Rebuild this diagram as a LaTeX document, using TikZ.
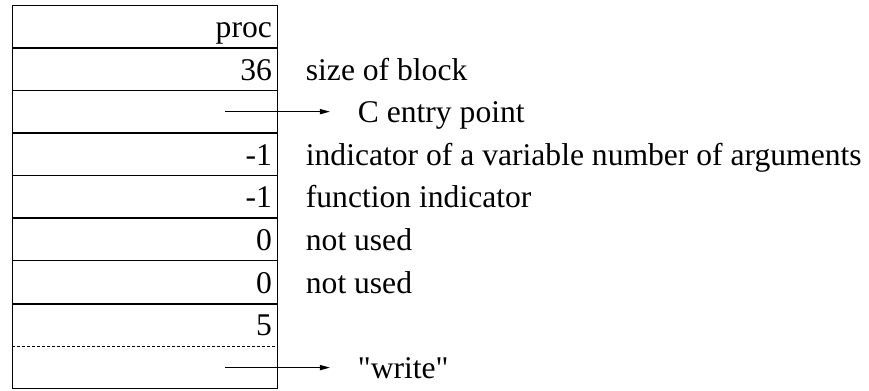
\documentclass[tikz,border=0pt]{standalone}
\usepackage{fontspec}
\setmainfont{Liberation Serif}[Ligatures=TeXOff]
\usepackage{tikz}
\usetikzlibrary{arrows.meta, positioning}
\tikzset{
  cell/.style={rectangle,text width=126.8pt,align=right,inner xsep=3pt,inner ysep=0pt,text height=16.17pt,text depth=5.16pt,outer sep=0pt,font=\fontsize{15.8pt}{18pt}\selectfont},
  lbl/.style={inner sep=0pt,outer sep=0pt,text height=16.17pt,text depth=5.16pt,font=\fontsize{15.8pt}{18pt}\selectfont},
  arr/.style={-{Triangle[length=5pt,width=2.6pt]},line width=0.5pt},
  sep/.style={line width=0.5pt},
  wsep/.style={line width=1.1pt}
}
\begin{document}
\begin{tikzpicture}[node distance=0pt]
  % the block, one cell per word
  \node[cell] (c1) at (0,0) {proc};
  \node[cell, below=of c1] (c2) {36};
  \node[cell, below=of c2] (c3) {};
  \node[cell, below=of c3] (c4) {-1};
  \node[cell, below=of c4] (c5) {-1};
  \node[cell, below=of c5] (c6) {0};
  \node[cell, below=of c6] (c7) {0};
  \node[cell, below=of c7] (c8) {5};
  \node[cell, below=of c8] (c9) {};

  \useasboundingbox ([shift={(-6.15pt,2.5pt)}]c1.north west) rectangle ++(434.5pt,-195.5pt);

  \draw[sep] (c1.north west) rectangle (c9.south east);
  \foreach \i in {1,3,5,7} \draw[wsep] (c\i.south west) -- (c\i.south east);
  \foreach \i in {2,4,6} \draw[sep] (c\i.south west) -- (c\i.south east);
  \draw[sep, dash pattern=on 1.5pt off 1pt] (c8.south west) -- (c8.south east);

  % notes
  \node[lbl, right=14pt of c2] (size) {size of block};
  \node[lbl, right=40pt of c3] (entry) {C entry point};
  \node[lbl, right=14pt of c4] (vararg) {indicator of a variable number of arguments};
  \node[lbl, right=14pt of c5] (func) {function indicator};
  \node[lbl, right=14pt of c6] (unused1) {not used};
  \node[lbl, right=14pt of c7] (unused2) {not used};
  \node[lbl, right=40pt of c9] (name) {"write"};

  \draw[arr, shorten >=14pt] ([xshift=-26.5pt]c3.east) -- (entry.west);
  \draw[arr, shorten >=14pt] ([xshift=-26.5pt]c9.east) -- (name.west);
\end{tikzpicture}
\end{document}
